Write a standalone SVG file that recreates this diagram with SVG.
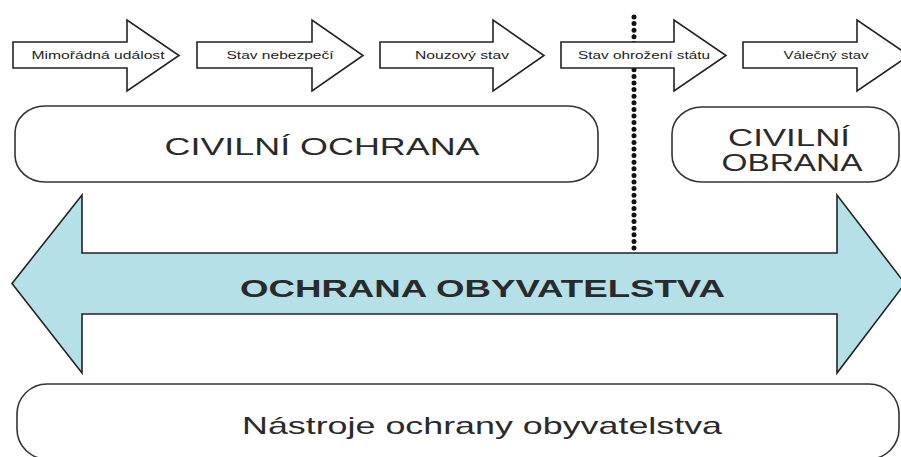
<svg xmlns="http://www.w3.org/2000/svg" width="901" height="457" viewBox="0 0 901 457">
<style>
.step{fill:#fff;stroke:#222;stroke-width:1.6;stroke-linejoin:miter}
.st{font-family:"Liberation Sans",Arial,sans-serif;font-size:10px;fill:#222;text-anchor:middle}
.box{fill:#fff;stroke:#333;stroke-width:1.6}
.big{font-family:"Liberation Sans",Arial,sans-serif;font-size:24px;fill:#2a2a2a;text-anchor:middle}
.band{fill:#b5e0e8;stroke:#222;stroke-width:1.6;stroke-linejoin:miter}
</style>
<rect width="901" height="457" fill="#fff"/>
<g id="divider">
<line x1="634" y1="17" x2="634" y2="251" stroke="#111" stroke-width="5" stroke-linecap="round" stroke-dasharray="0 6.6"/>
</g>
<g id="step1">
<path class="step" d="M13,42 H127 V20 L179,55.5 L127,91 V68 H13 Z"/>
<text class="st" x="98" y="58.5" textLength="133" lengthAdjust="spacingAndGlyphs">Mimořádná událost</text>
</g>
<g id="step2">
<path class="step" d="M197,42 H312 V20 L363,55.5 L312,91 V68 H197 Z"/>
<text class="st" x="280" y="58.5" textLength="107" lengthAdjust="spacingAndGlyphs">Stav nebezpečí</text>
</g>
<g id="step3">
<path class="step" d="M380,42 H493 V20 L544,55.5 L493,91 V68 H380 Z"/>
<text class="st" x="462" y="58.5" textLength="94" lengthAdjust="spacingAndGlyphs">Nouzový stav</text>
</g>
<g id="step4">
<path class="step" d="M561,42 H674 V20 L726,55.5 L674,91 V68 H561 Z"/>
<text class="st" x="644" y="58.5" textLength="132" lengthAdjust="spacingAndGlyphs">Stav ohrožení státu</text>
</g>
<g id="step5">
<path class="step" d="M743,42 H857 V20 L909,55.5 L857,91 V68 H743 Z"/>
<text class="st" x="826" y="58.5" textLength="85" lengthAdjust="spacingAndGlyphs">Válečný stav</text>
</g>
<g id="civilni-ochrana">
<rect class="box" x="15" y="106" width="583" height="76" rx="30" ry="27"/>
<text class="big" x="322" y="155" textLength="315" lengthAdjust="spacingAndGlyphs">CIVILNÍ OCHRANA</text>
</g>
<g id="civilni-obrana">
<rect class="box" x="672" y="107" width="227" height="75" rx="30" ry="27"/>
<text class="big" font-size="20"><tspan x="789" y="146" textLength="122" lengthAdjust="spacingAndGlyphs">CIVILNÍ</tspan><tspan x="792" y="171" textLength="141" lengthAdjust="spacingAndGlyphs">OBRANA</tspan></text>
</g>
<g id="ochrana-obyvatelstva">
<path class="band" d="M12,283.5 L82,195 V253 H837 V195 L905,283.5 L837,373 V314 H82 V373 Z"/>
<text class="big" x="482.5" y="297" font-weight="bold" fill="#151515" textLength="485" lengthAdjust="spacingAndGlyphs">OCHRANA OBYVATELSTVA</text>
</g>
<g id="nastroje">
<rect class="box" x="17" y="384" width="882" height="75" rx="30" ry="30"/>
<text class="big" x="482" y="434" textLength="480" lengthAdjust="spacingAndGlyphs">Nástroje ochrany obyvatelstva</text>
</g>
</svg>
